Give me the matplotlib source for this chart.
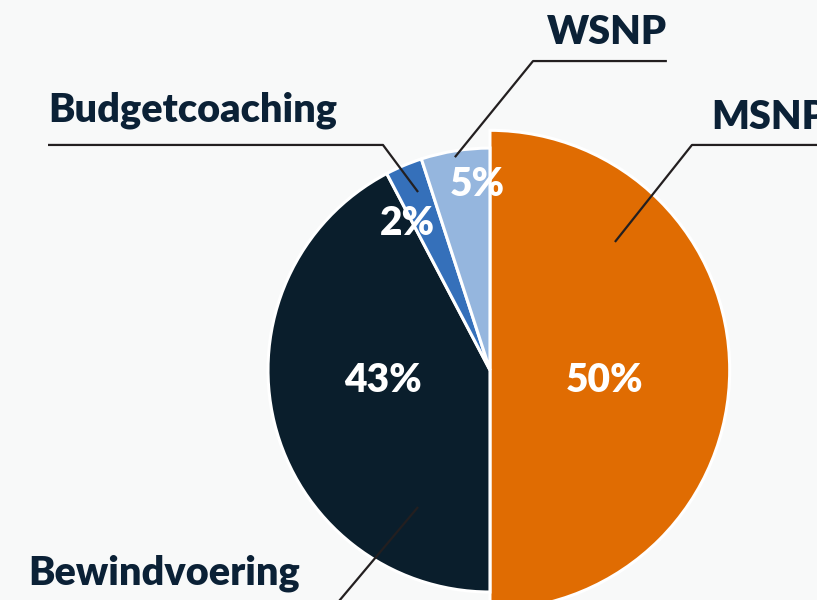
import matplotlib
matplotlib.use("Agg")
import matplotlib.pyplot as plt

# data (clockwise from 12 o'clock)
categories = ["MSNP", "Bewindvoering", "Budgetcoaching", "WSNP"]
shares = [50.0, 42.3, 2.7, 5.0]
pct_labels = ["50%", "43%", "2%", "5%"]
colors = ["#E06C02", "#0A1E2C", "#3570BA", "#95B6DE"]

bg = "#F8F9F9"
text_col = "#0B2136"
line_col = "#231F20"

fig = plt.figure(figsize=(8.17, 6.0), dpi=100, facecolor=bg)
ax = fig.add_axes([0, 0, 1, 1])
ax.set_facecolor(bg)

wedges, _ = ax.pie(shares, colors=colors, startangle=90, counterclock=False,
                   radius=1.0, center=(0, 0),
                   wedgeprops=dict(edgecolor="white", linewidth=2.2))
# the MSNP slice is drawn a bit bigger
wedges[0].set_radius(1.08)

ax.set_aspect("equal")
ax.set_xlim(-2.207, 1.473)
ax.set_ylim(-1.036, 1.667)
ax.axis("off")

font = "Lato"

# percentage labels inside the slices
pct_pos = [(0.518, -0.045), (-0.482, -0.045), (-0.374, 0.660), (-0.059, 0.835)]
for (x, y), s in zip(pct_pos, pct_labels):
    ax.text(x, y, s, color="white", fontsize=28, fontweight="heavy",
            family=font, ha="center", va="center")

# leader lines: start inside slice -> elbow -> horizontal end
leaders = {
    "MSNP": [(0.563, 0.577), (0.910, 1.014), (1.60, 1.014)],
    "Bewindvoering": [(-0.324, -0.617), (-0.703, -1.068), (-2.081, -1.068)],
    "Budgetcoaching": [(-0.324, 0.802), (-0.482, 1.014), (-1.991, 1.014)],
    "WSNP": [(-0.158, 0.959), (0.194, 1.392), (0.797, 1.392)],
}
label_pos = {
    "MSNP": (0.995, 1.136, "left"),
    "Bewindvoering": (-2.081, -0.914, "left"),
    "Budgetcoaching": (-1.991, 1.172, "left"),
    "WSNP": (0.797, 1.519, "right"),
}
for name in categories:
    pts = leaders[name]
    ax.plot([p[0] for p in pts], [p[1] for p in pts], color=line_col,
            lw=1.6, solid_capstyle="butt", clip_on=False)
    x, y, ha = label_pos[name]
    ax.text(x, y, name, color=text_col, fontsize=28.5, fontweight="heavy",
            family=font, ha=ha, va="center")

fig.savefig("out.png", dpi=100, facecolor=bg)
